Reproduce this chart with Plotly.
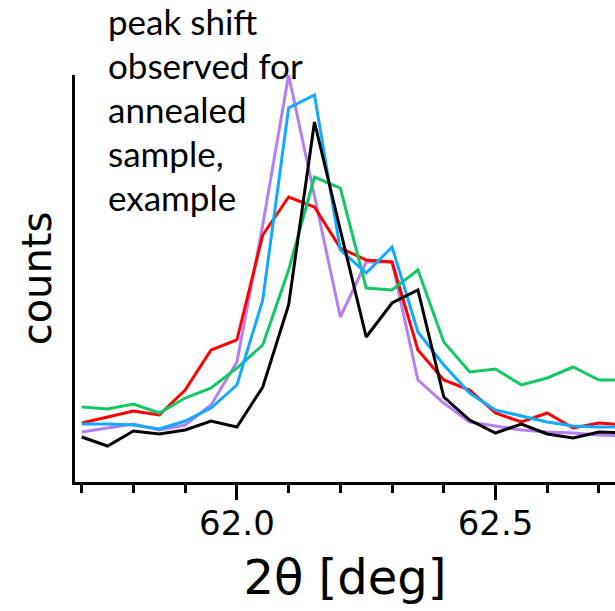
import plotly.graph_objects as go

# 2-theta positions (deg)
two_theta = [61.70, 61.75, 61.80, 61.85, 61.90, 61.95, 62.00, 62.05, 62.10, 62.15, 62.20,
             62.25, 62.30, 62.35, 62.40, 62.45, 62.50, 62.55, 62.60, 62.65, 62.70, 62.75]

# counts (arbitrary units) per sample
red_counts = [59, 65, 71, 67, 92, 132, 142, 247, 285, 275, 234, 222, 220, 132, 102, 92, 69, 60, 69, 54, 59, 57]
purple_counts = [50, 54, 58, 52, 57, 77, 120, 257, 407, 286, 165, 220, 220, 102, 79, 60, 56, 52, 50, 49, 47, 46]
green_counts = [75, 73, 78, 69, 84, 94, 114, 137, 212, 305, 294, 194, 192, 212, 140, 110, 113, 97, 104, 115, 102, 102]
blue_counts = [58, 58, 57, 53, 61, 74, 97, 182, 374, 387, 232, 209, 235, 150, 117, 89, 72, 66, 60, 56, 55, 55]
black_counts = [45, 36, 51, 48, 52, 61, 55, 95, 177, 360, 252, 145, 179, 192, 85, 62, 49, 58, 48, 44, 50, 49]

major_ticks = [62.0, 62.5]
major_labels = ["62.0", "62.5"]
note_lines = ["peak shift", "observed for", "annealed", "sample,", "example"]

series = [
    ("purple", purple_counts, "#b47ff0"),
    ("red", red_counts, "#ff0000"),
    ("green", green_counts, "#12c864"),
    ("blue", blue_counts, "#10aaff"),
    ("black", black_counts, "#000000"),
]

fig = go.Figure()
for name, vals, col in series:
    fig.add_trace(go.Scatter(x=two_theta, y=vals, mode="lines", name=name,
                             line=dict(color=col, width=3), showlegend=False))

fig.update_layout(
    width=615, height=611,
    margin=dict(l=75, r=0, t=75, b=129),
    paper_bgcolor="white", plot_bgcolor="white",
    font=dict(family="DejaVu Sans, sans-serif", color="black"),
    xaxis=dict(
        range=[61.687, 62.731],
        showgrid=False, zeroline=False,
        showline=True, linecolor="black", linewidth=3,
        tickmode="array", tickvals=major_ticks, ticktext=major_labels,
        ticks="outside", ticklen=15, tickwidth=2.5, tickcolor="black",
        tickfont=dict(size=34, family="DejaVu Sans, sans-serif"),
        ticklabelstandoff=-6,
        minor=dict(tickmode="linear", tick0=62.0, dtick=0.1, ticks="outside",
                   ticklen=8, tickwidth=2.5, tickcolor="black", showgrid=False),
        title=dict(text="2θ [deg]", font=dict(size=48, family="DejaVu Sans, sans-serif"), standoff=19),
    ),
    yaxis=dict(
        range=[0, 407],
        showgrid=False, zeroline=False,
        showline=True, linecolor="black", linewidth=3,
        showticklabels=False, ticks="",
        title=dict(text="counts", font=dict(size=40, family="DejaVu Sans, sans-serif"), standoff=9),
    ),
)

for i, txt in enumerate(note_lines):
    fig.add_annotation(text=txt, xref="paper", yref="paper",
                       x=0.058, y=(482 - (21 + 44 * i)) / 407,
                       xanchor="left", yanchor="middle", showarrow=False,
                       font=dict(family="Lato, Carlito, sans-serif", size=35, color="black"))

# remove the browser's default body margin so the 615x611 figure fills the window
fig.write_html("out.html", config={"displayModeBar": False},
               post_script="document.body.style.margin='0';")
